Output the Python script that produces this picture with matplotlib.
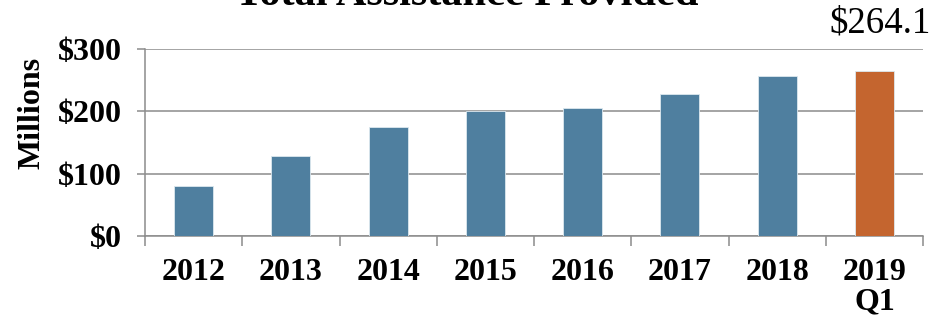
import matplotlib.pyplot as plt
import numpy as np

# yearly totals, millions of dollars
years = ['2012', '2013', '2014', '2015', '2016', '2017', '2018', '2019\nQ1']
totals = [80.0, 128.0, 175.0, 200.0, 206.0, 228.0, 256.0, 264.1]
bar_colors = ['#4f7f9f'] * 7 + ['#c4652f']
y_ticks = [0, 100, 200, 300]
y_labels = ['$0', '$100', '$200', '$300']

plt.rcParams['font.family'] = ['Liberation Serif', 'DejaVu Serif']

fig = plt.figure(figsize=(9.49, 3.27), dpi=100)
ax = fig.add_axes([145 / 949, 1 - 236 / 327, 778 / 949, 187 / 327])

x = np.arange(len(years))
ax.bar(x, totals, width=0.4, color=bar_colors, edgecolor='#dce8ef', linewidth=0.6, zorder=3)

# label for the latest bar
ax.text(x[-1] + 0.06, totals[-1] + 62, '$%.1f' % totals[-1], ha='center', va='baseline',
        fontsize=26.5, clip_on=False)

grey = '#8c8c8c'
ax.set_xlim(-0.5, len(years) - 0.5)
ax.set_ylim(0, 300)
ax.set_yticks(y_ticks)
ax.set_yticklabels(y_labels, fontsize=23, fontweight='bold')
ax.yaxis.grid(True, color=grey, linewidth=1.1, zorder=0)

ax.set_xticks(x)
ax.set_xticklabels(years, fontsize=23, fontweight='bold', linespacing=1.0)
ax.set_xticks(np.arange(-0.5, len(years)), minor=True)
ax.tick_params(axis='x', which='major', length=0, pad=16)
ax.tick_params(axis='x', which='minor', length=7, width=1.1, color=grey)
ax.tick_params(axis='y', length=6, width=1.1, color=grey, pad=11)

for side in ['top', 'right']:
    ax.spines[side].set_visible(False)
for side in ['left', 'bottom']:
    ax.spines[side].set_color(grey)
    ax.spines[side].set_linewidth(1.1)

ax.set_ylabel('Millions', fontsize=23, fontweight='bold')
ax.yaxis.set_label_coords(-0.127, 0.66)

fig.text(467 / 949, 1 - 5 / 327, 'Total Assistance Provided', ha='center', va='baseline',
         fontsize=30.5, fontweight='bold')

fig.savefig('out.png', dpi=100)
